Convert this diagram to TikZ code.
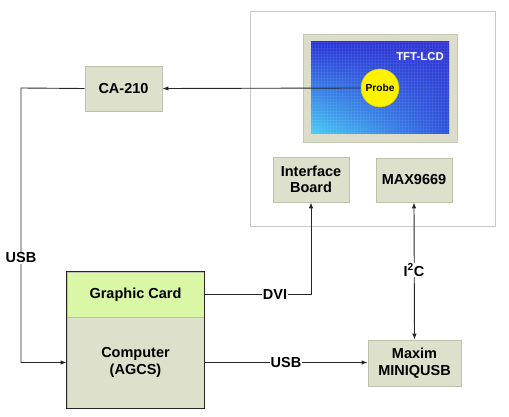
\documentclass[tikz,border=0pt]{standalone}
\usepackage{fontspec}
\setmainfont{Liberation Sans}
\usetikzlibrary{arrows.meta,shadings}
\definecolor{boxfill}{HTML}{DDE0CA}
\definecolor{boxline}{HTML}{BEC1AC}
\definecolor{gcfill}{HTML}{DAF7A5}
\definecolor{bezel}{HTML}{DCDCCB}
\definecolor{bezelline}{HTML}{C5C6B3}
\definecolor{framegray}{HTML}{C8C8C8}
\definecolor{probey}{HTML}{FFF200}
\definecolor{scrUL}{RGB}{40,50,215}
\definecolor{scrUR}{RGB}{48,52,210}
\definecolor{scrLL}{RGB}{70,205,245}
\definecolor{scrLR}{RGB}{45,80,220}
\tikzset{
  blk/.style={draw=boxline, fill=boxfill, line width=0.8pt, font=\fontsize{14.5}{16.5}\selectfont\bfseries, align=center, inner sep=0pt},
  conn/.style={line width=0.9pt, draw=black!85},
  tip/.style={-{Latex[length=6pt,width=4.5pt]}},
  lbl/.style={fill=white, inner sep=1pt, font=\fontsize{14.5}{16.5}\selectfont\bfseries}
}
\begin{document}
\begin{tikzpicture}[x=1pt,y=-1pt]
\useasboundingbox (0,0) rectangle (509,417);
% outer frame
\draw[draw=framegray, line width=0.8pt, fill=white] (250,11) rectangle (495,226);
% bezel
\draw[draw=bezelline, fill=bezel, line width=0.8pt] (303,34) rectangle (457,142);
% screen
\shade[upper left=scrUL, upper right=scrUR, lower left=scrLL, lower right=scrLR]
  (311,42) rectangle (449,134);
\draw[white, opacity=0.08, step=3pt] (311,42) grid (449,134);
\node[text=white, font=\fontsize{11.4}{13}\selectfont\bfseries] (tft) at (420,57) {TFT-LCD};
\node[circle, fill=probey, draw=probey!85!black, line width=0.5pt, minimum size=38pt, inner sep=0pt,
      font=\fontsize{10.2}{12}\selectfont\bfseries] (probe) at (380,88) {Probe};
% boxes
\node[blk, minimum width=76pt, minimum height=45pt] (ib) at (311,179.5) {Interface\\Board};
\node[blk, minimum width=76pt, minimum height=44pt] (max) at (414,180) {MAX9669};
\node[blk, minimum width=77pt, minimum height=45pt] (ca) at (123.5,88.5) {CA-210};
\node[blk, minimum width=93pt, minimum height=46pt] (mq) at (414.5,363) {Maxim\\MINIQUSB};
% computer
\node[blk, fill=gcfill, draw=boxline, minimum width=137pt, minimum height=45pt] (gc) at (135.5,294.5) {Graphic Card};
\node[blk, minimum width=137pt, minimum height=91pt] (comp) at (135.5,362.5) {Computer\\(AGCS)};
\draw[line width=1.6pt, draw=black!85] (gc.north west) rectangle (comp.south east);
% connectors
\coordinate (c1) at (21,88);
\coordinate (c2) at (21,362.5);
\draw[conn, tip] (probe.west) -- (ca.east);
\draw[conn, tip] (ca.west) -- (c1) -- (c2) -- (comp.west);
\node[lbl] (usb1) at (21,258) {USB};
\coordinate (c3) at (311,294.5);
\draw[conn, tip] (gc.east) -- (c3) -- (ib.south);
\node[lbl] (dvi) at (275,294.5) {DVI};
\draw[conn, tip] (comp.east) -- (comp.east -| mq.west);
\node[lbl] (usb2) at (286,362.5) {USB};
\draw[conn, {Latex[length=6pt,width=4.5pt]}-{Latex[length=6pt,width=4.5pt]}] (max.south) -- (mq.north);
\node[lbl] (i2c) at (414,270) {I\textsuperscript{2}C};
\end{tikzpicture}
\end{document}
